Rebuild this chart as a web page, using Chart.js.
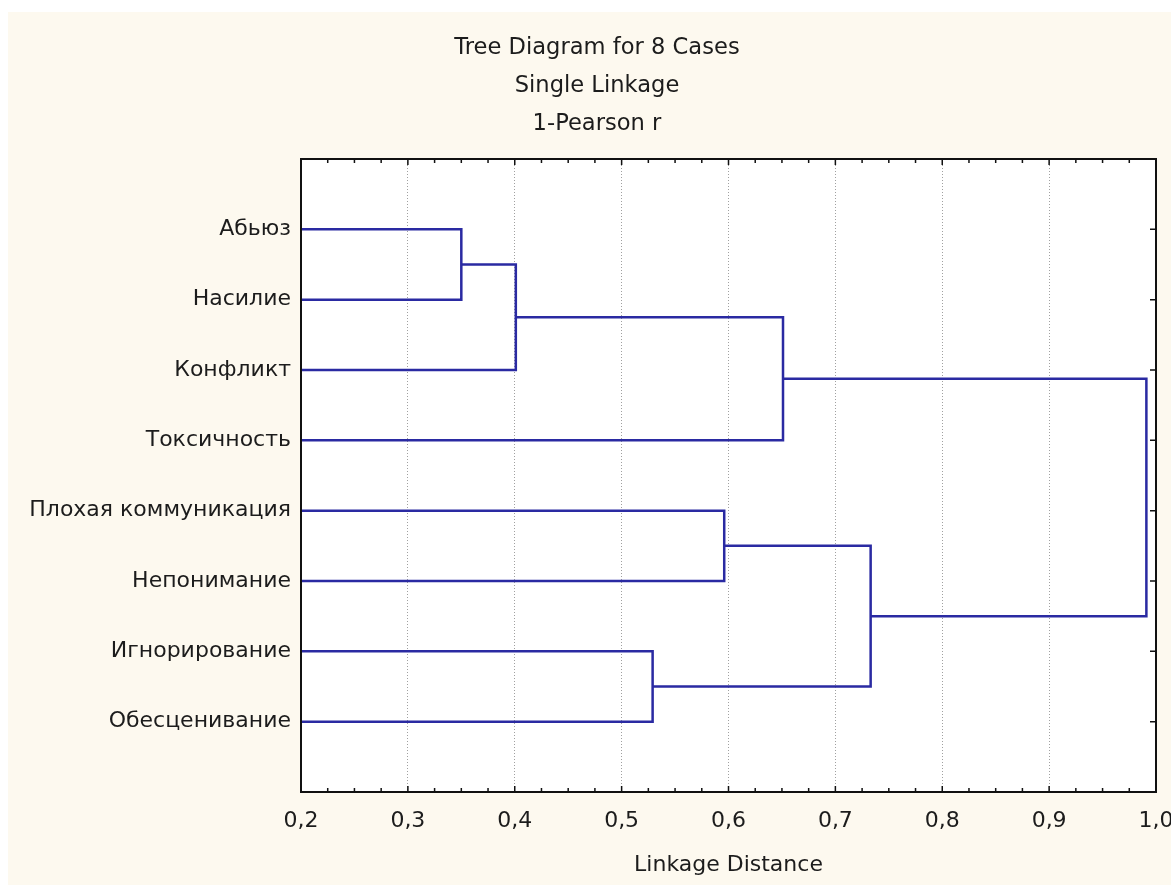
<!DOCTYPE html>
<html>
<head>
<meta charset="utf-8">
<script src="https://cdn.jsdelivr.net/npm/chart.js@4.4.0/dist/chart.umd.min.js"></script>
<style>
  html, body { margin: 0; padding: 0; background: #fff; }
  #wrap { position: absolute; left: 8px; top: 12px; width: 1163px; height: 873px; background: #fdf9ef; }
</style>
</head>
<body>
<div id="wrap"><canvas id="tree"></canvas></div>
<script>
// leaves, top to bottom
const caseLabels = ["Абьюз", "Насилие", "Конфликт", "Токсичность",
  "Плохая коммуникация", "Непонимание", "Игнорирование", "Обесценивание"];

// merges in order; clusters 0..7 are leaves, merge k creates cluster 8+k
const mergeLeft = [0, 8, 6, 4, 9, 11, 12];
const mergeRight = [1, 2, 7, 5, 3, 10, 13];
const mergeDist = [0.350, 0.401, 0.529, 0.596, 0.651, 0.733, 0.991];

const titleLines = ["Tree Diagram for 8 Cases", "Single Linkage", "1-Pearson r"];
const xMin = 0.2, xMax = 1.0;

const lineColor = "#2a2aa2";
const textColor = "#1c1c1c";

// node positions (x = linkage distance, y = row)
const nodeX = caseLabels.map(() => xMin);
const nodeY = caseLabels.map((_, i) => i + 1);
const datasets = [];
mergeDist.forEach((d, k) => {
  const l = mergeLeft[k], r = mergeRight[k];
  datasets.push({
    data: [
      { x: nodeX[l], y: nodeY[l] },
      { x: d, y: nodeY[l] },
      { x: d, y: nodeY[r] },
      { x: nodeX[r], y: nodeY[r] },
    ],
    showLine: true,
    borderColor: lineColor,
    borderWidth: 2.5,
    pointRadius: 0,
    tension: 0,
  });
  nodeX.push(d);
  nodeY.push((nodeY[l] + nodeY[r]) / 2);
});

// white plot area, black frame and inward tick marks
const frame = {
  id: "frame",
  beforeDraw(chart) {
    const { ctx, chartArea: a } = chart;
    ctx.save();
    ctx.fillStyle = "#fff";
    ctx.fillRect(a.left, a.top, a.right - a.left, a.bottom - a.top);
    ctx.restore();
  },
  afterDraw(chart) {
    const { ctx, chartArea: a, scales: { x, y } } = chart;
    ctx.save();
    ctx.strokeStyle = "#111";
    ctx.lineWidth = 2;
    ctx.strokeRect(a.left, a.top, a.right - a.left, a.bottom - a.top);
    ctx.lineWidth = 1.5;
    ctx.beginPath();
    for (let i = 0; i <= 32; i++) {
      const px = x.getPixelForValue(xMin + i * 0.025);
      const len = i % 4 === 0 ? 6 : 4;
      ctx.moveTo(px, a.top); ctx.lineTo(px, a.top + len);
      ctx.moveTo(px, a.bottom); ctx.lineTo(px, a.bottom - len);
    }
    caseLabels.forEach((_, i) => {
      const py = y.getPixelForValue(i + 1);
      ctx.moveTo(a.right, py); ctx.lineTo(a.right - 6, py);
    });
    ctx.stroke();
    ctx.restore();
  },
};

Chart.defaults.font.family = "'DejaVu Sans', sans-serif";
Chart.defaults.font.size = 22;
Chart.defaults.color = textColor;

new Chart(document.getElementById("tree"), {
  type: "scatter",
  data: { datasets },
  options: {
    responsive: true,
    maintainAspectRatio: false,
    animation: false,
    events: [],
    layout: { padding: { left: 15, right: 0 } },
    plugins: {
      legend: { display: false },
      tooltip: { enabled: false },
      title: {
        display: true,
        text: titleLines,
        color: textColor,
        font: { size: 22.6, weight: "normal", lineHeight: 38 / 22.6 },
        padding: { top: 17, bottom: 16 },
      },
    },
    scales: {
      x: {
        type: "linear",
        min: xMin,
        max: xMax,
        ticks: {
          stepSize: 0.1,
          padding: 16,
          color: textColor,
          callback: (v) => v.toFixed(1).replace(".", ","),
        },
        grid: {
          drawTicks: false,
          lineWidth: 1,
          color: (c) => (c.tick && c.tick.value > xMin + 1e-6 && c.tick.value < xMax - 1e-6 ? "#a0a0a0" : "rgba(0,0,0,0)"),
        },
        border: { display: false, dash: [1, 2] },
        title: {
          display: true,
          text: "Linkage Distance",
          color: textColor,
          padding: { top: 0, bottom: 7 },
        },
        afterFit: (s) => { s.height = 93; s.paddingLeft = 0; s.paddingRight = 0; },
      },
      y: {
        type: "linear",
        min: 0,
        max: 9,
        reverse: true,
        ticks: {
          stepSize: 1,
          autoSkip: false,
          padding: 10,
          color: textColor,
          callback: (v) => caseLabels[v - 1] || "",
        },
        grid: { display: false, drawTicks: false },
        border: { display: false },
        afterFit: (s) => { s.width = 278; },
      },
      yRight: {
        type: "linear",
        position: "right",
        min: 0,
        max: 9,
        ticks: { display: false },
        grid: { display: false, drawTicks: false },
        border: { display: false },
        afterFit: (s) => { s.width = 15; },
      },
    },
  },
  plugins: [frame],
});
</script>
</body>
</html>
